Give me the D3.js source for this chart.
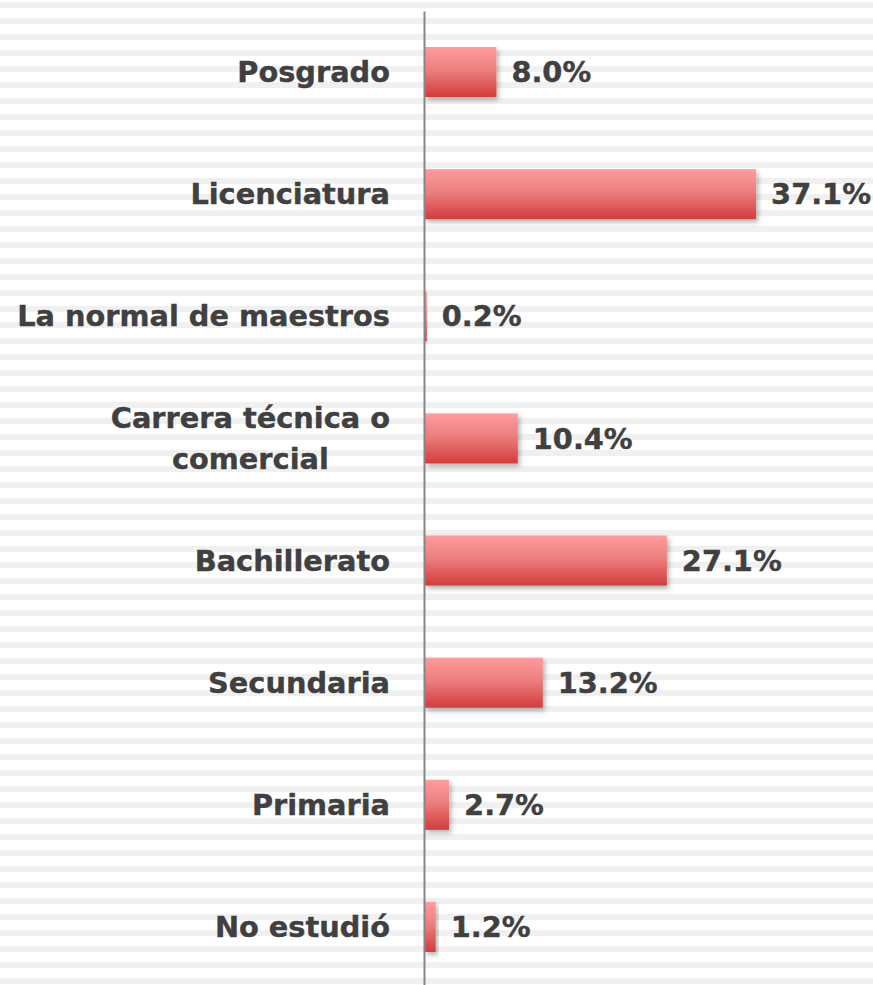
<html>
<head>
  <meta charset="utf-8">
  <script src="https://d3js.org/d3.v7.min.js"></script>
  <style>
    body {
      margin: 0;
      padding: 0;
      background: #fff;
    }
    .label, .value {
      font-family: "DejaVu Sans", sans-serif;
      font-weight: bold;
      font-size: 28.8px;
      fill: #404040;
      stroke: #404040;
      stroke-width: 0.4px;
    }
  </style>
</head>
<body>
<div id="chart"></div>
<script>

// data (top to bottom)
var categories = ["Posgrado", "Licenciatura", "La normal de maestros",
  "Carrera técnica o\ncomercial", "Bachillerato", "Secundaria", "Primaria", "No estudió"];
var values = [8.0, 37.1, 0.2, 10.4, 27.1, 13.2, 2.7, 1.2];

var width = 873;
var height = 985;

var data = categories.map(function(c, i) { return {name: c, value: values[i]}; });

var svg = d3.select("#chart").append("svg")
    .attr("width", width)
    .attr("height", height);

var defs = svg.append("defs");

// striped background
var pattern = defs.append("pattern")
    .attr("id", "stripes")
    .attr("patternUnits", "userSpaceOnUse")
    .attr("width", 16)
    .attr("height", 16)
    .attr("y", 2);
pattern.append("rect")
    .attr("width", 16)
    .attr("height", 6)
    .attr("fill", "#f0f0f0");

svg.append("rect")
    .attr("width", width)
    .attr("height", height)
    .attr("fill", "url(#stripes)");

var grad = defs.append("linearGradient")
    .attr("id", "barGrad")
    .attr("x1", 0).attr("y1", 0)
    .attr("x2", 0).attr("y2", 1);
grad.append("stop").attr("offset", "0%").attr("stop-color", "#ff9c9c");
grad.append("stop").attr("offset", "45%").attr("stop-color", "#ec7f7f");
grad.append("stop").attr("offset", "100%").attr("stop-color", "#d23c3c");

var shadow = defs.append("filter")
    .attr("id", "shadow")
    .attr("x", "-20%").attr("y", "-20%")
    .attr("width", "150%").attr("height", "160%");
shadow.append("feDropShadow")
    .attr("dx", 2)
    .attr("dy", 3)
    .attr("stdDeviation", 2.5)
    .attr("flood-color", "#000")
    .attr("flood-opacity", 0.3);

var x = d3.scaleLinear()
    .domain([0, 40])
    .range([425, 782]);

var y = d3.scaleBand()
    .domain(categories)
    .range([11, 988])
    .paddingInner(0.59)
    .paddingOuter(0.295);

// bars
svg.selectAll(".bar")
    .data(data)
  .enter().append("rect")
    .attr("class", "bar")
    .attr("x", x(0))
    .attr("y", function(d) { return y(d.name); })
    .attr("width", function(d) { return x(d.value) - x(0); })
    .attr("height", y.bandwidth())
    .attr("fill", "url(#barGrad)")
    .attr("filter", "url(#shadow)");

// axis line
var yAxis = d3.axisLeft(y).tickSize(0).tickFormat("");
svg.append("g")
    .attr("transform", "translate(" + (x(0) - 1) + ",0)")
    .call(yAxis)
    .call(function(g) {
      g.select(".domain").attr("stroke", "#868686").attr("stroke-width", 2);
    });

// category labels
var labels = svg.selectAll(".label")
    .data(data)
  .enter().append("text")
    .attr("class", "label")
    .attr("transform", function(d) {
      return "translate(0," + (y(d.name) + y.bandwidth() / 2) + ")";
    });

labels.each(function(d) {
  var lines = d.name.split("\n");
  var t = d3.select(this);
  if (lines.length === 1) {
    t.attr("text-anchor", "end")
      .append("tspan")
      .attr("x", 390)
      .attr("dy", "0.35em")
      .text(lines[0]);
  } else {
    // centered block, right edge at 390
    var tmp = svg.append("text").attr("class", "label").text(lines[0]);
    var w = tmp.node().getComputedTextLength();
    tmp.remove();
    var cx = 390 - w / 2;
    t.attr("text-anchor", "middle");
    lines.forEach(function(l, i) {
      t.append("tspan")
        .attr("x", cx)
        .attr("dy", i === 0 ? -10 : 41)
        .text(l);
    });
  }
});

// value labels
svg.selectAll(".value")
    .data(data)
  .enter().append("text")
    .attr("class", "value")
    .attr("x", function(d) { return x(d.value) + 15; })
    .attr("y", function(d) { return y(d.name) + y.bandwidth() / 2; })
    .attr("dy", "0.35em")
    .text(function(d) { return d.value.toFixed(1) + "%"; });

</script>
</body>
</html>
